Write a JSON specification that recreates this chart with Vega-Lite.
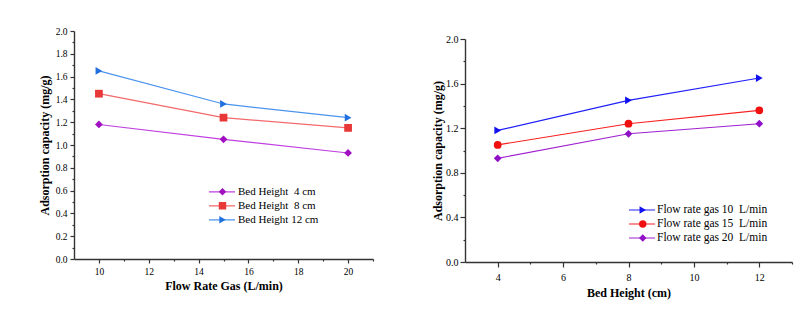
{
  "$schema": "https://vega.github.io/schema/vega-lite/v6.json",
  "padding": {"left": 38, "top": 26, "right": 5, "bottom": 5},
  "background": "white",
  "config": {
    "font": "Liberation Serif, Times New Roman, DejaVu Serif, serif",
    "view": {"stroke": null},
    "axis": {"grid": false, "domainColor": "#333", "tickColor": "#333", "labelColor": "black", "titleColor": "black", "labelFont": "Liberation Serif, Times New Roman, DejaVu Serif, serif", "titleFont": "Liberation Serif, Times New Roman, DejaVu Serif, serif", "titleFontWeight": "bold", "titleFontSize": 12, "domainWidth": 1.4, "tickWidth": 1.2},
    "legend": {"labelFont": "Liberation Serif, Times New Roman, DejaVu Serif, serif", "labelColor": "black"}
  },
  "datasets": {
    "left": [
      {"flow": 10, "q": 1.18, "series": "Bed Height\u00a0 4 cm", "marker": "4 cm"},
      {"flow": 15, "q": 1.05, "series": "Bed Height\u00a0 4 cm", "marker": "4 cm"},
      {"flow": 20, "q": 0.93, "series": "Bed Height\u00a0 4 cm", "marker": "4 cm"},
      {"flow": 10, "q": 1.45, "series": "Bed Height\u00a0 8 cm", "marker": "8 cm"},
      {"flow": 15, "q": 1.24, "series": "Bed Height\u00a0 8 cm", "marker": "8 cm"},
      {"flow": 20, "q": 1.15, "series": "Bed Height\u00a0 8 cm", "marker": "8 cm"},
      {"flow": 10, "q": 1.65, "series": "Bed Height 12 cm", "marker": "12 cm"},
      {"flow": 15, "q": 1.36, "series": "Bed Height 12 cm", "marker": "12 cm"},
      {"flow": 20, "q": 1.24, "series": "Bed Height 12 cm", "marker": "12 cm"}
    ],
    "right": [
      {"bed": 4, "q": 1.18, "series": "Flow rate gas 10\u00a0 L/min", "marker": "10"},
      {"bed": 8, "q": 1.45, "series": "Flow rate gas 10\u00a0 L/min", "marker": "10"},
      {"bed": 12, "q": 1.65, "series": "Flow rate gas 10\u00a0 L/min", "marker": "10"},
      {"bed": 4, "q": 1.05, "series": "Flow rate gas 15\u00a0 L/min", "marker": "15"},
      {"bed": 8, "q": 1.24, "series": "Flow rate gas 15\u00a0 L/min", "marker": "15"},
      {"bed": 12, "q": 1.36, "series": "Flow rate gas 15\u00a0 L/min", "marker": "15"},
      {"bed": 4, "q": 0.93, "series": "Flow rate gas 20\u00a0 L/min", "marker": "20"},
      {"bed": 8, "q": 1.15, "series": "Flow rate gas 20\u00a0 L/min", "marker": "20"},
      {"bed": 12, "q": 1.24, "series": "Flow rate gas 20\u00a0 L/min", "marker": "20"}
    ]
  },
  "spacing": 57,
  "resolve": {"scale": {"x": "independent", "y": "independent", "stroke": "independent", "fill": "independent", "shape": "independent"}, "legend": {"stroke": "independent", "fill": "independent", "shape": "independent"}},
  "hconcat": [
    {
      "width": 299,
      "height": 228,
      "data": {"name": "left"},
      "encoding": {
        "x": {"field": "flow", "type": "quantitative", "scale": {"domain": [9, 21], "nice": false},
          "axis": {"title": "Flow Rate Gas (L/min)", "values": [10, 11, 12, 13, 14, 15, 16, 17, 18, 19, 20, 21], "format": "d", "labelExpr": "datum.value % 2 == 0 ? datum.label : ''", "labelOverlap": false, "labelFontSize": 9.5, "labelPadding": 3, "titlePadding": 5, "tickSize": {"condition": {"test": "datum.value % 2 == 0", "value": 4}, "value": 2}}},
        "y": {"field": "q", "type": "quantitative", "scale": {"domain": [0, 2], "nice": false, "zero": false},
          "axis": {"title": "Adsorption capacity (mg/g)", "values": [0, 0.1, 0.2, 0.3, 0.4, 0.5, 0.6, 0.7, 0.8, 0.9, 1.0, 1.1, 1.2, 1.3, 1.4, 1.5, 1.6, 1.7, 1.8, 1.9, 2.0], "format": ".1f", "labelExpr": "round(datum.value * 10) % 2 == 0 ? datum.label : ''", "labelOverlap": false, "labelFontSize": 9.5, "labelPadding": 3, "titlePadding": 4, "tickSize": {"condition": {"test": "round(datum.value * 10) % 2 == 0", "value": 4}, "value": 2}}}
      },
      "layer": [
        {
          "mark": {"type": "line", "strokeWidth": 1.2},
          "encoding": {
            "stroke": {"field": "series", "type": "nominal",
              "scale": {"domain": ["Bed Height\u00a0 4 cm", "Bed Height\u00a0 8 cm", "Bed Height 12 cm"], "range": ["#c040e0", "#f26a6a", "#4a94ec"]},
              "legend": {"title": null, "orient": "none", "legendX": 134, "legendY": 154, "padding": 0, "rowPadding": 0, "clipHeight": 13.6, "symbolType": "stroke", "symbolSize": 676, "symbolStrokeWidth": 1.2, "labelFontSize": 11, "labelOffset": 2, "symbolOffset": 0, "zindex": 0}
            }
          }
        },
        {
          "mark": {"type": "point", "filled": true, "opacity": 1},
          "encoding": {
            "fill": {"field": "marker", "type": "nominal", "scale": {"domain": ["4 cm", "8 cm", "12 cm"], "range": ["#a010c0", "#e83838", "#2070e0"]},
              "legend": {"title": null, "orient": "none", "legendX": 134, "legendY": 154, "padding": 0, "rowPadding": 0, "clipHeight": 13.6, "symbolSize": 55, "symbolStrokeWidth": 0, "symbolOpacity": 1, "labelFontSize": 11, "labelExpr": "''", "labelOffset": 0, "symbolOffset": 9, "zindex": 1}},
            "shape": {"field": "marker", "type": "nominal", "scale": {"domain": ["4 cm", "8 cm", "12 cm"], "range": ["diamond", "square", "triangle-right"]},
              "legend": {"title": null, "orient": "none", "legendX": 134, "legendY": 154, "padding": 0, "rowPadding": 0, "clipHeight": 13.6, "symbolSize": 55, "symbolStrokeWidth": 0, "symbolOpacity": 1, "labelFontSize": 11, "labelExpr": "''", "labelOffset": 0, "symbolOffset": 9, "zindex": 1}},
            "size": {"value": 60}
          }
        }
      ]
    },
    {
      "width": 327,
      "height": 231,
      "data": {"name": "right"},
      "encoding": {
        "x": {"field": "bed", "type": "quantitative", "scale": {"domain": [3, 13], "nice": false},
          "axis": {"title": "Bed Height (cm)", "values": [4, 5, 6, 7, 8, 9, 10, 11, 12, 13], "format": "d", "labelExpr": "datum.value % 2 == 0 ? datum.label : ''", "labelOverlap": false, "labelFontSize": 10, "labelPadding": 5, "titlePadding": 5, "tickSize": {"condition": {"test": "datum.value % 2 == 0", "value": 5}, "value": 2}}},
        "y": {"field": "q", "type": "quantitative", "scale": {"domain": [0, 2], "nice": false, "zero": false, "range": [231, 8]},
          "axis": {"title": "Adsorption capacity (mg/g)", "values": [0, 0.2, 0.4, 0.6, 0.8, 1.0, 1.2, 1.4, 1.6, 1.8, 2.0], "format": ".1f", "labelExpr": "round(datum.value * 10) % 4 == 0 ? datum.label : ''", "labelOverlap": false, "labelFontSize": 10, "labelPadding": 2, "titlePadding": 1, "tickSize": {"condition": {"test": "round(datum.value * 10) % 4 == 0", "value": 5}, "value": 2}}}
      },
      "layer": [
        {
          "mark": {"type": "line", "strokeWidth": 1.2},
          "encoding": {
            "stroke": {"field": "series", "type": "nominal",
              "scale": {"domain": ["Flow rate gas 10\u00a0 L/min", "Flow rate gas 15\u00a0 L/min", "Flow rate gas 20\u00a0 L/min"], "range": ["#2020f8", "#f82020", "#a020d0"]},
              "legend": {"title": null, "orient": "none", "legendX": 163, "legendY": 172, "padding": 0, "rowPadding": 0, "clipHeight": 14, "symbolType": "stroke", "symbolSize": 676, "symbolStrokeWidth": 1.2, "labelFontSize": 11.5, "labelOffset": 1, "symbolOffset": 0, "zindex": 0}
            }
          }
        },
        {
          "mark": {"type": "point", "filled": true, "opacity": 1},
          "encoding": {
            "fill": {"field": "marker", "type": "nominal", "scale": {"domain": ["10", "15", "20"], "range": ["#1010f0", "#f01010", "#9010c8"]},
              "legend": {"title": null, "orient": "none", "legendX": 163, "legendY": 172, "padding": 0, "rowPadding": 0, "clipHeight": 14, "symbolSize": 55, "symbolStrokeWidth": 0, "symbolOpacity": 1, "labelFontSize": 11.5, "labelExpr": "''", "labelOffset": 0, "symbolOffset": 9, "zindex": 1}},
            "shape": {"field": "marker", "type": "nominal", "scale": {"domain": ["10", "15", "20"], "range": ["triangle-right", "circle", "diamond"]},
              "legend": {"title": null, "orient": "none", "legendX": 163, "legendY": 172, "padding": 0, "rowPadding": 0, "clipHeight": 14, "symbolSize": 55, "symbolStrokeWidth": 0, "symbolOpacity": 1, "labelFontSize": 11.5, "labelExpr": "''", "labelOffset": 0, "symbolOffset": 9, "zindex": 1}},
            "size": {"value": 60}
          }
        }
      ]
    }
  ]
}
